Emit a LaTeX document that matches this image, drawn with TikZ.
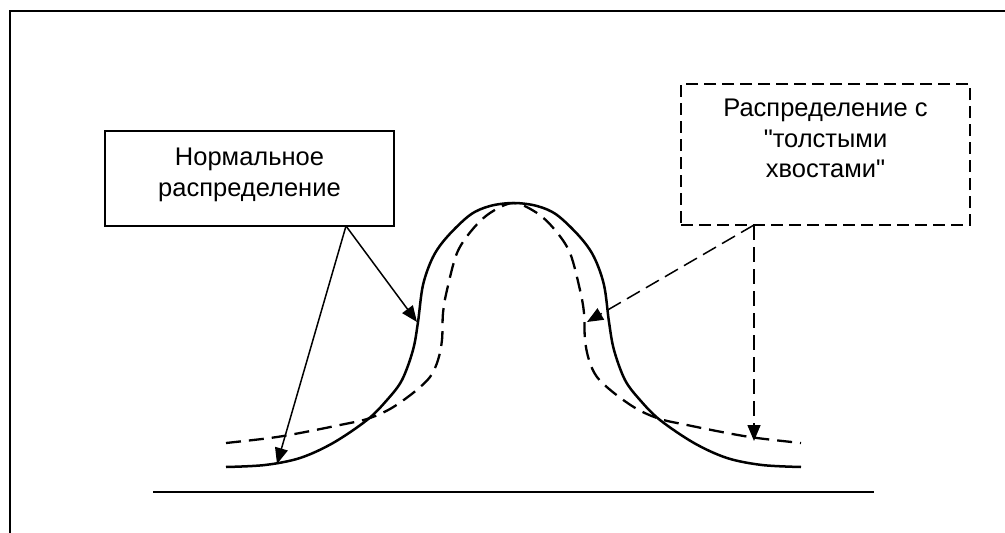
\documentclass[tikz,border=0pt]{standalone}
\usepackage{fontspec}
\setmainfont{Liberation Sans}[Ligatures=TeXOff]
\usetikzlibrary{arrows.meta}
\begin{document}
\begin{tikzpicture}[x=1pt,y=-1pt,
  frame/.style={line width=1.8pt},
  curve/.style={line width=2.5pt},
  tailcurve/.style={line width=2.3pt,dash pattern=on 15pt off 8pt},
  axisline/.style={line width=1.9pt},
  labelbox/.style={draw,line width=1.7pt,minimum width=289pt,inner sep=0pt},
  dashbox/.style={labelbox,dash pattern=on 12pt off 6pt},
  labeltext/.style={align=center,font=\fontsize{25.5}{30.5}\selectfont,inner sep=0pt,anchor=north},
  pointer/.style={line width=1.5pt,-{Triangle[length=16pt,width=13pt]}},
  dashpointer/.style={pointer,dash pattern=on 15pt off 7pt}]
\useasboundingbox (0,0) rectangle (1005,533);

% page frame, running off the right and bottom edges
\draw[frame] (10,533) -- (10,11) -- (1005,11);

% horizontal axis
\draw[axisline] (153,492) -- (874,492);

% normal distribution
\draw[curve] plot[smooth,tension=0.55] coordinates {
  (226,467) (265,465) (300,458) (333,443) (367,420) (387,400) (402,380)
  (413,350) (418,322) (423,285) (433,257) (447,237) (470,215) (490,206)
  (513.5,203)
  (537,206) (557,215) (580,237) (594,257) (604,285) (609,322) (614,350)
  (625,380) (640,400) (660,420) (694,443) (727,458) (762,465) (801,467)};

% fat-tailed distribution
\draw[tailcurve] plot[smooth,tension=0.55] coordinates {
  (226,443) (270,438) (300,433) (340,425) (367,419) (390,409) (413,393)
  (430,377) (438,360) (442,340) (443,313) (447,290) (457,253) (472,230)
  (490,213) (513.5,203)
  (537,213) (555,230) (570,253) (580,290) (584,313) (585,340) (589,360)
  (597,377) (614,393) (637,409) (660,419) (687,425) (727,433) (757,438)
  (801,443)};

% label boxes
\node[labelbox,minimum height=95pt] (nbox) at (249.5,178.5) {};
\node[labeltext] (ntext) at ([yshift=-18pt]nbox.north)
  {Нормальное\\распределение};
\node[dashbox,minimum height=141pt] (fbox) at (825.5,154.5) {};
\node[labeltext] (ftext) at ([yshift=-16pt]fbox.north)
  {Распределение с\\"толстыми\\хвостами"};

% arrow targets on the curves
\coordinate (nleft) at (277,464);
\coordinate (nmid) at (417,322);
\coordinate (fmid) at (587,322);
\coordinate (fright) at (754,441);
\coordinate (nfoot) at (346,226);
\coordinate (ffoot) at (754,225);

\draw[pointer] (nfoot) -- (nmid);
\draw[pointer] (nfoot) -- (nleft);
\draw[dashpointer] (ffoot) -- (fmid);
\draw[dashpointer] (ffoot) -- (fright);
\end{tikzpicture}
\end{document}
